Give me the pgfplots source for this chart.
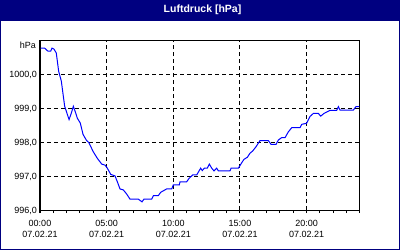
\documentclass[border=0pt]{standalone}
\usepackage{fontspec}
\setmainfont{Liberation Sans}
\usepackage{pgfplots}
\pgfplotsset{compat=1.18}
\definecolor{navy}{HTML}{000080}
\definecolor{lineblue}{HTML}{0000FF}
\begin{document}
\begin{tikzpicture}
\fill[navy] (0pt,0pt) rectangle (400pt,250pt);
\fill[white] (1pt,1.5pt) rectangle (398.5pt,229.3pt);
\node[text=white,font=\bfseries\fontsize{10.5}{12}\selectfont] at (202.5pt,240pt) {Luftdruck [hPa]};
\begin{axis}[
  at={(40pt,40pt)}, anchor=south west,
  scale only axis, width=320pt, height=170pt,
  xmin=0, xmax=24, ymin=996, ymax=1001,
  axis line style={black, line width=1pt},
  xtick={0,5,10,15,20},
  xticklabels={{00:00\\07.02.21},{05:00\\07.02.21},{10:00\\07.02.21},{15:00\\07.02.21},{20:00\\07.02.21}},
  minor xtick={1,2,3,4,6,7,8,9,11,12,13,14,16,17,18,19,21,22,23,24},
  xtick pos=bottom, xtick align=outside,
  major tick length=3pt, minor tick length=3pt,
  tick style={black, line width=1pt},
  ytick={996,997,998,999,1000},
  yticklabels={{996,0},{997,0},{998,0},{999,0},{1000,0}},
  ytick style={draw=none},
  ymajorgrids, xmajorgrids,
  major grid style={black, line width=1pt, dash pattern=on 4pt off 3pt},
  ticklabel style={font=\fontsize{9}{11}\selectfont},
  xticklabel style={align=center, inner sep=0pt, yshift=-7.5pt},
  yticklabel style={inner sep=0pt, xshift=-3pt, yshift=-1pt},
  /pgf/number format/assume math mode=true,
  clip=false,
]
\addplot[lineblue, line width=1pt] coordinates {
(0.05,1000.76)(0.35,1000.76)(0.6,1000.67)(0.8,1000.67)(0.9,1000.76)(1.05,1000.73)
(1.22,1000.62)(1.4,1000.08)(1.6,999.79)(1.85,999.05)(2.18,998.66)(2.35,998.85)
(2.5,999.05)(2.68,998.85)(2.8,998.7)(3.02,998.56)(3.23,998.22)(3.5,998.04)
(3.65,997.99)(4.0,997.71)(4.3,997.52)(4.63,997.35)(4.88,997.32)(5.05,997.23)
(5.3,997.05)(5.63,997.0)(5.8,996.83)(6.0,996.62)(6.25,996.59)(6.5,996.47)
(6.75,996.32)(7.37,996.32)(7.65,996.24)(7.8,996.32)(8.38,996.32)(8.5,996.42)
(8.87,996.42)(9.05,996.52)(9.5,996.62)(9.88,996.62)(10.0,996.74)(10.45,996.74)
(10.5,996.83)(11.0,996.83)(11.18,996.93)(11.45,997.03)(11.75,997.03)(12.05,997.23)
(12.17,997.16)(12.33,997.23)(12.55,997.23)(12.7,997.35)(12.88,997.23)(13.05,997.15)
(13.25,997.23)(13.38,997.15)(14.25,997.15)(14.33,997.23)(14.88,997.23)(15.13,997.39)
(15.3,997.49)(15.55,997.55)(15.75,997.67)(15.96,997.74)(16.2,997.86)(16.5,998.04)
(17.13,998.04)(17.33,997.93)(17.7,997.93)(17.88,998.06)(18.13,998.13)(18.38,998.13)
(18.63,998.3)(18.88,998.42)(19.5,998.42)(19.63,998.52)(20.0,998.55)(20.25,998.75)
(20.5,998.84)(20.88,998.84)(21.05,998.76)(21.3,998.84)(21.75,998.93)(22.25,998.93)
(22.38,999.04)(22.5,998.94)(23.5,998.94)(23.7,999.04)(23.93,999.04)
};
\node[anchor=north east, inner sep=0pt, font=\fontsize{9}{11}\selectfont] at (rel axis cs:0,1) [xshift=-4pt, yshift=-2pt] {hPa};
\end{axis}
\end{tikzpicture}
\end{document}
